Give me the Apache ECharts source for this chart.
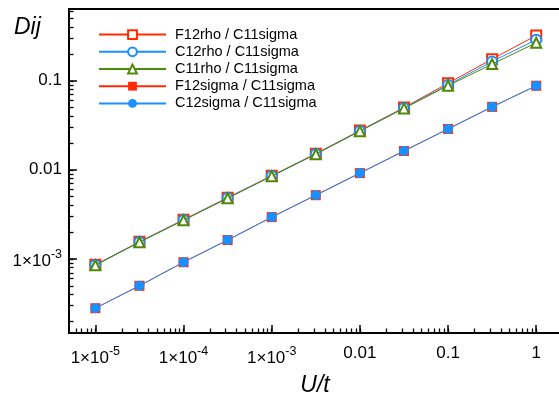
<!DOCTYPE html>
<html>
<head>
<meta charset="utf-8">
<script src="https://cdn.jsdelivr.net/npm/echarts@6/dist/echarts.min.js"></script>
<style>
  html, body { margin: 0; padding: 0; background: #fff; }
  #chart { width: 559px; height: 397px; }
</style>
</head>
<body>
<div id="chart"></div>
<script>
// U/t values (half-decade steps)
const uVals = [1e-5, 3.162e-5, 1e-4, 3.162e-4, 1e-3, 3.162e-3, 0.01, 0.03162, 0.1, 0.3162, 1];

// Dij values
const f12rho = [8.6e-4, 1.56e-3, 2.76e-3, 4.88e-3, 8.6e-3, 1.52e-2, 2.76e-2, 5.0e-2, 0.094, 0.175, 0.323];
const c12rho = [8.55e-4, 1.55e-3, 2.74e-3, 4.84e-3, 8.55e-3, 1.51e-2, 2.74e-2, 4.95e-2, 0.090, 0.165, 0.289];
const c11rho = [8.5e-4, 1.54e-3, 2.72e-3, 4.8e-3, 8.5e-3, 1.5e-2, 2.72e-2, 4.9e-2, 0.088, 0.154, 0.267];
const f12sigma = [2.8e-4, 5.0e-4, 9.2e-4, 1.63e-3, 2.95e-3, 5.2e-3, 9.2e-3, 1.63e-2, 2.88e-2, 5.1e-2, 8.8e-2];
const c12sigma = [2.8e-4, 5.0e-4, 9.2e-4, 1.63e-3, 2.95e-3, 5.2e-3, 9.2e-3, 1.63e-2, 2.88e-2, 5.1e-2, 8.8e-2];

// tick positions
const xMajor = [1e-5, 1e-4, 1e-3, 0.01, 0.1, 1];
const yMajor = [1e-3, 0.01, 0.1];
const xMinor = [];
const yMinor = [];
[1e-6, 1e-5, 1e-4, 1e-3, 0.01, 0.1, 1].forEach(d => {
  for (let k = 2; k <= 9; k++) {
    const v = +(k * d).toPrecision(3);
    if (v > 5.1e-6 && v < 1.9) xMinor.push(v);
    if (v > 1.5e-4 && v < 0.63) yMinor.push(v);
  }
});
// all tick positions (short ticks on the main axes)
const xAllTicks = xMajor.concat(xMinor).sort((a, b) => a - b);
const yAllTicks = yMajor.concat(yMinor).sort((a, b) => a - b);

const RED = '#ff2a00', BLUE = '#1a8fff', GREEN = '#4e8a0a';
const FONT = '"Liberation Sans", Arial, sans-serif';
const CLEAR = 'rgba(0,0,0,0)';

const X_MIN = Math.pow(10, -5.299), X_MAX = Math.pow(10, 0.281);
const Y_MIN = Math.pow(10, -3.831), Y_MAX = Math.pow(10, -0.194);

// grid box (the right edge sits just off the canvas)
const G_LEFT = 69, G_RIGHT = -2, G_TOP = 9, G_BOTTOM = 64;
const W = 559, H = 397;

function fmt(v) {
  const e = Math.round(Math.log10(v));
  if (e <= -3) return '{b|1×10}{s|' + e + '}';
  return '{p|' + (e === 0 ? '1' : v.toString()) + '}';
}

const richX = {
  b: { fontSize: 17, lineHeight: 22, verticalAlign: 'bottom', fontFamily: FONT, color: '#000' },
  s: { fontSize: 12.5, lineHeight: 13, verticalAlign: 'top', fontFamily: FONT, color: '#000' },
  p: { fontSize: 17, lineHeight: 18, verticalAlign: 'top', padding: [0, 0, 4, 0], fontFamily: FONT, color: '#000' }
};

function logAxis(extra) {
  return Object.assign({
    type: 'log',
    logBase: 10,
    splitLine: { show: false },
    minorTick: { show: false },
    minorSplitLine: { show: false }
  }, extra);
}

// plain log axis moved onto the opposite edge, carrying the longer decade ticks
function majorAxis(min, max, position, offset, vals) {
  return {
    type: 'log',
    min: min, max: max,
    position: position,
    offset: offset,
    axisLine: { show: true, lineStyle: { color: '#000', width: 2 } },
    axisTick: { show: true, inside: false, length: 8, lineStyle: { color: '#000', width: 1.5 }, customValues: vals },
    axisLabel: { color: CLEAR },
    splitLine: { lineStyle: { color: CLEAR } }
  };
}

const chart = echarts.init(document.getElementById('chart'));

function pts(arr) { return uVals.map((u, i) => [u, arr[i]]); }

function line(name, arr, color, symbol, z) {
  return {
    name: name,
    type: 'line',
    data: pts(arr),
    symbol: symbol,
    symbolSize: 10,
    showSymbol: true,
    z: z,
    lineStyle: { color: color, width: 1 },
    itemStyle: { color: color, borderWidth: 1.6 },
    emphasis: { disabled: true },
    animation: false
  };
}

const axisLineStyle = { show: true, lineStyle: { color: '#000', width: 2 } };

chart.setOption({
  animation: false,
  grid: {
    left: G_LEFT, right: G_RIGHT, top: G_TOP, bottom: G_BOTTOM,
    containLabel: false, outerBoundsMode: 'none',
    show: true, borderColor: '#000', borderWidth: 2, backgroundColor: 'transparent'
  },
  legend: {
    orient: 'vertical',
    left: 93,
    top: 21,
    itemWidth: 67,
    itemHeight: 11,
    itemGap: 0,
    textStyle: { fontFamily: FONT, fontSize: 14.5, lineHeight: 17.2, color: '#000', padding: [0, 0, 0, 4] },
    data: ['F12rho / C11sigma', 'C12rho / C11sigma', 'C11rho / C11sigma', 'F12sigma / C11sigma', 'C12sigma / C11sigma']
  },
  xAxis: [
    logAxis({
      min: X_MIN, max: X_MAX, position: 'bottom',
      name: 'U/t', nameLocation: 'middle', nameGap: 41,
      nameTextStyle: { fontFamily: FONT, fontSize: 23, fontStyle: 'italic', color: '#000' },
      axisLine: axisLineStyle,
      axisTick: { show: true, inside: true, length: 4.5, lineStyle: { color: '#000', width: 1.3 }, customValues: xAllTicks },
      axisLabel: { margin: 12, formatter: fmt, rich: richX, customValues: xMajor }
    }),
    // decade ticks: a top axis moved down onto the bottom edge
    majorAxis(X_MIN, X_MAX, 'top', -(H - G_BOTTOM - G_TOP), xMajor)
  ],
  yAxis: [
    logAxis({
      min: Y_MIN, max: Y_MAX, position: 'left',
      axisLine: axisLineStyle,
      axisTick: { show: true, inside: true, length: 4.5, lineStyle: { color: '#000', width: 1.3 }, customValues: yAllTicks },
      axisLabel: { margin: 7, formatter: fmt, rich: richX, customValues: yMajor }
    }),
    // decade ticks: a right axis moved over onto the left edge
    majorAxis(Y_MIN, Y_MAX, 'right', -(W - G_RIGHT - G_LEFT), yMajor)
  ],
  graphic: [{
    type: 'text',
    left: 14,
    top: 16,
    style: { text: 'Dij', font: 'italic 23px ' + FONT, fill: '#000' }
  }],
  series: [
    line('F12sigma / C11sigma', f12sigma, RED, 'rect', 2),
    line('C12sigma / C11sigma', c12sigma, BLUE, 'circle', 3),
    line('F12rho / C11sigma', f12rho, RED, 'emptyRect', 4),
    line('C12rho / C11sigma', c12rho, BLUE, 'emptyCircle', 5),
    line('C11rho / C11sigma', c11rho, GREEN, 'emptyTriangle', 6)
  ]
});
</script>
</body>
</html>
